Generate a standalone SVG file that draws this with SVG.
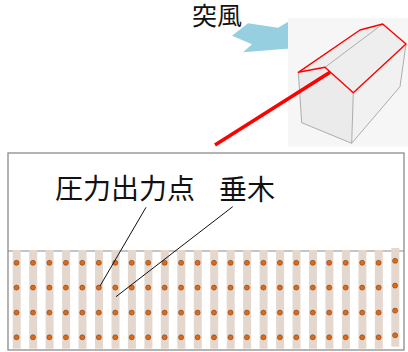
<svg xmlns="http://www.w3.org/2000/svg" width="408" height="352" viewBox="0 0 408 352">
  <defs>
    <style>
      .label { font-family: "Noto Sans CJK JP", "Noto Sans CJK SC", sans-serif; fill: #111; }
      .rafter { fill: #E4D7CE; }
      .pt { fill: #E2690F; stroke: #7E4C30; stroke-width: 0.7; }
      .edge { fill: none; stroke: #9A9A9A; stroke-width: 0.8; }
      .roofline { fill: none; stroke: #FF0000; stroke-width: 1.4; stroke-linejoin: round; }
      .leader { stroke: #111; stroke-width: 1; fill: none; }
    </style>
    <!-- one rafter strip with its four pressure points -->
    <g id="rafterCol">
      <rect class="rafter" x="0" y="250" width="8" height="98.7"/>
      <circle class="pt" cx="3.8" cy="262.8" r="2.5"/>
      <circle class="pt" cx="3.8" cy="287.6" r="2.5"/>
      <circle class="pt" cx="3.8" cy="312.6" r="2.5"/>
      <circle class="pt" cx="3.8" cy="337.3" r="2.5"/>
    </g>
  </defs>

  <rect width="408" height="352" fill="#FFFFFF"/>

  <!-- gust arrow and label -->
  <g id="gust">
    <polygon points="232,35.7 248,23.3 278,27.7 294,18.3 293,48.3 243,52.3 252,44.3" fill="#96D0E0"/>
    <text class="label" x="192" y="24.5" font-size="25">突風</text>
  </g>

  <!-- house sketch -->
  <g id="house">
    <rect x="288" y="18" width="120" height="128.5" fill="#F6F6F6"/>
    <polygon points="298.3,72.3 325,67.3 353.3,92.7 351.7,143.3 301.7,122.7" fill="#EBEBEB"/>
    <polygon points="298.3,72.3 360,30 382.7,24 406,44 353.3,92.7 325,67.3" fill="#EEEEEE"/>
    <polygon points="353.3,92.7 406,44 400,86.7 351.7,143.3" fill="#F1F1F1"/>
    <polyline class="edge" points="298.3,72.3 301.7,122.7 351.7,143.3 353.3,92.7"/>
    <polyline class="edge" points="351.7,143.3 400,86.7 406,44"/>
    <line class="edge" x1="325" y1="67.3" x2="382.7" y2="24"/>
    <polygon class="roofline" points="298.3,72.3 325,67.3 353.3,92.7 406,44 382.7,24 360,30"/>
  </g>

  <!-- section through the roof -->
  <g id="section">
    <rect x="8" y="153" width="396" height="197" fill="#FFFFFF" stroke="#8C8C8C" stroke-width="1.3"/>
    <line x1="8" y1="251" x2="404" y2="251" stroke="#8C8C8C" stroke-width="1.2"/>
  </g>

  <!-- rafters -->
  <g id="rafters">
    <use href="#rafterCol" x="12.7"/>
    <use href="#rafterCol" x="29.2"/>
    <use href="#rafterCol" x="45.6"/>
    <use href="#rafterCol" x="62.1"/>
    <use href="#rafterCol" x="78.5"/>
    <use href="#rafterCol" x="95.0"/>
    <use href="#rafterCol" x="111.5"/>
    <use href="#rafterCol" x="127.9"/>
    <use href="#rafterCol" x="144.4"/>
    <use href="#rafterCol" x="160.8"/>
    <use href="#rafterCol" x="177.3"/>
    <use href="#rafterCol" x="193.8"/>
    <use href="#rafterCol" x="210.2"/>
    <use href="#rafterCol" x="226.7"/>
    <use href="#rafterCol" x="243.1"/>
    <use href="#rafterCol" x="259.6"/>
    <use href="#rafterCol" x="276.1"/>
    <use href="#rafterCol" x="292.5"/>
    <use href="#rafterCol" x="309.0"/>
    <use href="#rafterCol" x="325.4"/>
    <use href="#rafterCol" x="341.9"/>
    <use href="#rafterCol" x="358.4"/>
    <use href="#rafterCol" x="374.8"/>
    <use href="#rafterCol" x="391.3" y="-2"/>
  </g>

  <!-- labels -->
  <g id="label-points">
    <text class="label" x="55" y="199" font-size="28">圧力出力点</text>
  </g>
  <g id="label-rafter">
    <text class="label" x="219" y="200" font-size="28">垂木</text>
  </g>

  <!-- connectors -->
  <g id="connectors">
    <line x1="215" y1="145" x2="330" y2="72.3" stroke="#FF0000" stroke-width="3.6"/>
    <line class="leader" x1="146" y1="207.3" x2="100" y2="286"/>
    <line class="leader" x1="232.7" y1="206.7" x2="116" y2="296.7"/>
  </g>
</svg>
